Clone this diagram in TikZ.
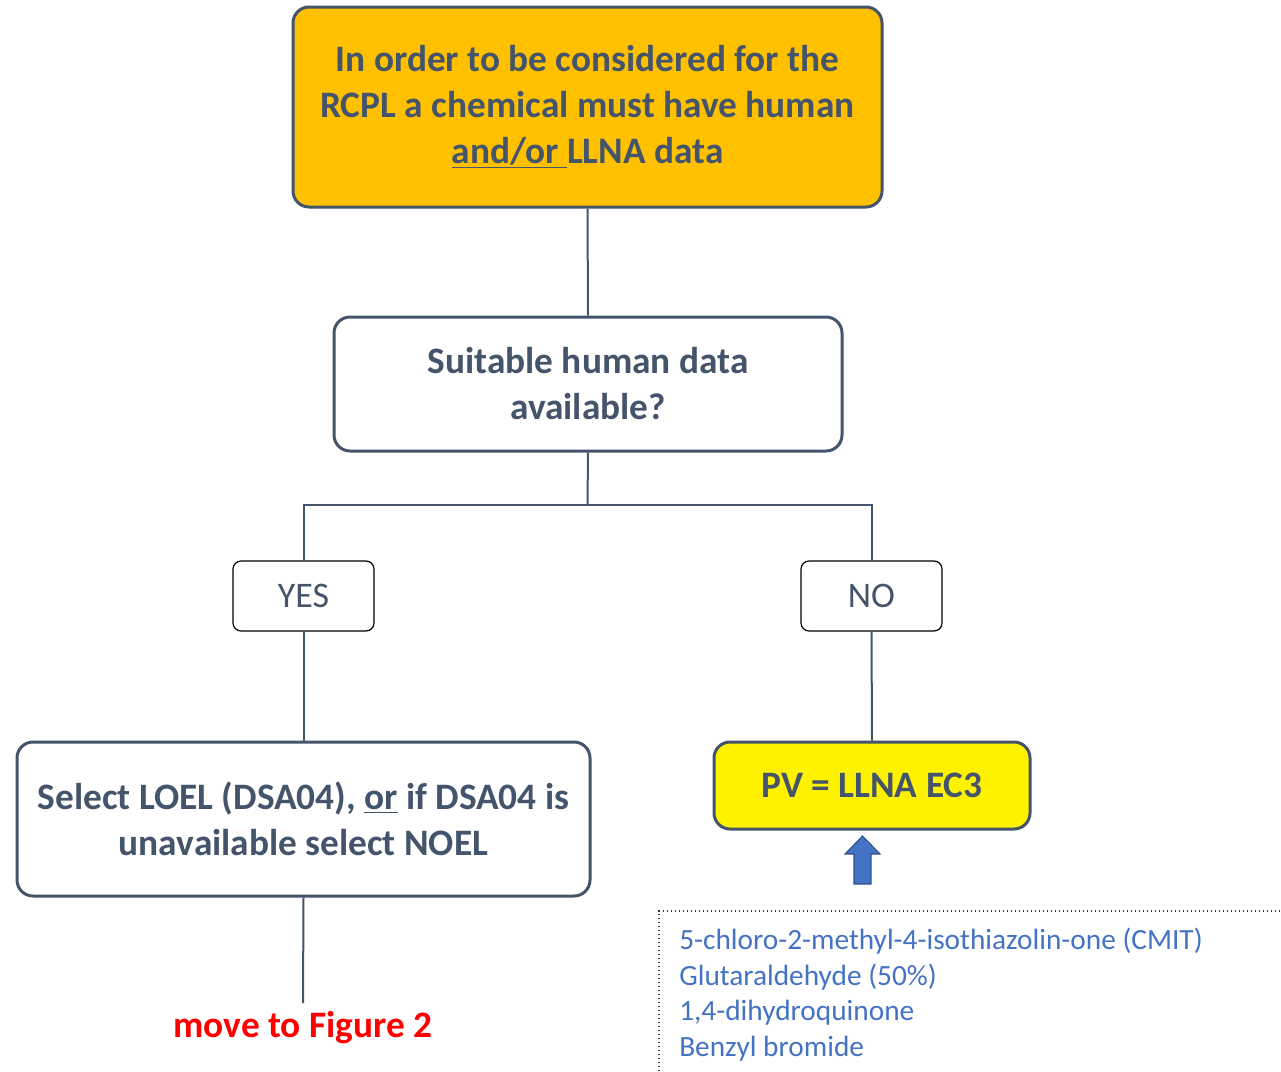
\documentclass[tikz,border=0pt]{standalone}
\usepackage{fontspec}
\setmainfont{Carlito}
\usetikzlibrary{positioning}

\definecolor{slate}{HTML}{44546A}
\definecolor{amber}{HTML}{FFC000}
\definecolor{listblue}{HTML}{4472C4}
\definecolor{arrowedge}{HTML}{2F528F}

\tikzset{
  bigbox/.style={draw=slate, line width=2.25pt, rounded corners=12pt, inner sep=0pt,
    align=center, text=slate, font=\bfseries\fontsize{28}{34.5}\selectfont},
  ansbox/.style={draw=black, line width=0.9pt, rounded corners=6pt, inner sep=0pt,
    minimum width=105.75pt, minimum height=52.5pt, text=slate,
    font=\fontsize{27}{30}\selectfont},
  link/.style={draw=slate, line width=1.5pt}
}

\begin{document}
\begin{tikzpicture}[x=0.75pt, y=-0.75pt]
  \useasboundingbox (0,0) rectangle (1281,1071);

  % boxes
  \node[bigbox, fill=amber, minimum width=441.75pt, minimum height=150pt] (rcpl) at (587.5,107)
    {In order to be considered for the\\RCPL a chemical must have human\\\underline{and/or }LLNA data};
  \node[bigbox, fill=white, minimum width=381pt, minimum height=100.5pt] (human) at (588,384)
    {Suitable human data\\available?};
  \node[ansbox] (yes) at (303.5,596) {YES};
  \node[ansbox] (no) at (871.5,596) {NO};
  \node[bigbox, fill=white, minimum width=429.75pt, minimum height=115.5pt] (loel) at (303.5,819)
    {Select LOEL (DSA04), \underline{or} if DSA04 is\\unavailable select NOEL};
  \node[bigbox, fill=yellow, minimum width=237pt, minimum height=65.25pt] (pv) at (872,785.5)
    {PV = LLNA EC3};
  \node[text=red, font=\bfseries\fontsize{28}{32}\selectfont] (fig2) at (303,1028) {move to Figure 2};
  \coordinate (fig2top) at (303,1003);

  % connectors
  \coordinate (split) at (587.5,505);
  \draw[link] (rcpl.south) -- (human.north);
  \draw[link] (human.south) -- (split);
  \draw[link] (yes.north) |- (split) -| (no.north);
  \draw[link] (yes.south) -- (loel.north);
  \draw[link] (no.south) -- (pv.north);
  \draw[link] (loel.south) -- (fig2top);

  % block arrow
  \draw[arrowedge, fill=listblue, line width=0.8pt]
    (854,884) -- (854,854) -- (845,854) -- (862.5,836) -- (880,854) -- (871,854) -- (871,884) -- cycle;

  % list of chemicals
  \draw[black!80, dotted, line width=1pt] (1300,911) -- (659,911) -- (659,1090);
  \node[anchor=base west, inner sep=0pt, align=left, text=listblue,
        font=\fontsize{22}{26.6}\selectfont] (chems) at (679,1056)
    {5-chloro-2-methyl-4-isothiazolin-one (CMIT)\\Glutaraldehyde (50\%)\\1,4-dihydroquinone\\Benzyl bromide};
\end{tikzpicture}
\end{document}
